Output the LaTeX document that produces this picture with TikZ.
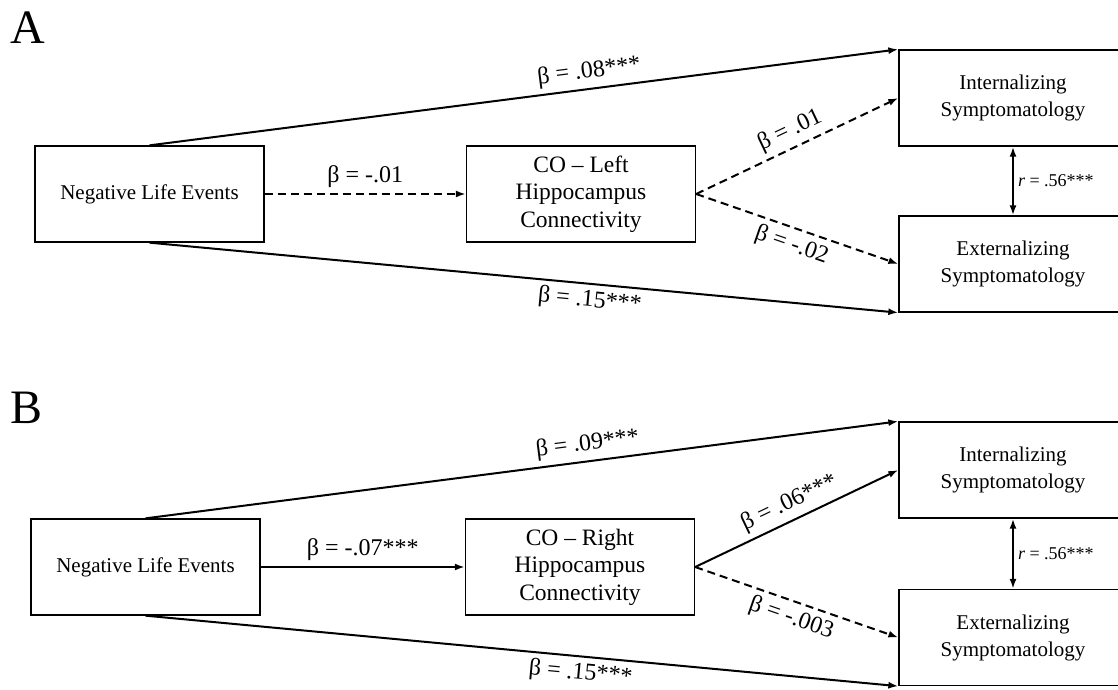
\documentclass[tikz,border=0pt]{standalone}
\usepackage{fontspec}
\setmainfont{Liberation Serif}
\usetikzlibrary{arrows.meta,positioning}

\begin{document}
\begin{tikzpicture}[x=1pt,y=-1pt,
        box/.style={draw,line width=1.3pt,minimum width=229pt,minimum height=96pt,
            align=center,font=\fontsize{21}{27}\selectfont},
        medbox/.style={box,font=\fontsize{23.5}{27.5}\selectfont},
        path/.style={line width=2pt,-{Latex[length=10pt,width=7pt]}},
        nspath/.style={path,dash pattern=on 8pt off 5pt},
        corr/.style={line width=2pt,{Latex[length=10pt,width=7pt]}-{Latex[length=10pt,width=7pt]}},
        coef/.style={font=\fontsize{24}{27}\selectfont,inner sep=5pt},
        rlab/.style={font=\fontsize{18}{20}\selectfont,inner sep=4pt},
        panel/.style={font=\fontsize{48}{48}\selectfont}]
        \useasboundingbox (0,0) rectangle (1118,689);
        \clip (0,0) rectangle (1118,689);
        \node[panel] (labA) at (28,28) {A};
        \node[box] (nleA) at (149.5,194) {Negative Life Events};
        \node[medbox] (medA) at (581,194) {CO -- Left\\Hippocampus\\Connectivity};
        \node[box,minimum width=228pt] (intA) at (1013,98) {Internalizing\\Symptomatology};
        \node[box,minimum width=228pt] (extA) at (1013,264) {Externalizing\\Symptomatology};
        \draw[path] (nleA.north) -- node[coef,sloped,above,pos=.59]{β = .08***} (intA.north west);
        \draw[nspath] (nleA) -- node[coef,above]{β = -.01} (medA);
        \draw[nspath] (medA.east) -- node[coef,sloped,above]{β = .01} (intA.west);
        \draw[nspath] (medA.east) -- node[coef,sloped,below]{β = -.02} (extA.west);
        \draw[path] (nleA.south) -- node[coef,sloped,below,pos=.59]{β = .15***} (extA.south west);
        \draw[corr] (intA) -- node[rlab,right]{\textit{r} = .56***} (extA);
        \node[panel] (labB) at (27,408) {B};
        \node[box] (nleB) at (145.5,567) {Negative Life Events};
        \node[medbox] (medB) at (580,567) {CO -- Right\\Hippocampus\\Connectivity};
        \node[box,minimum width=228pt] (intB) at (1013,470) {Internalizing\\Symptomatology};
        \node[box,minimum width=228pt] (extB) at (1013,637.5) {Externalizing\\Symptomatology};
        \draw[path] (nleB.north) -- node[coef,sloped,above,pos=.59]{β = .09***} (intB.north west);
        \draw[path] (nleB) -- node[coef,above]{β = -.07***} (medB);
        \draw[path] (medB.east) -- node[coef,sloped,above]{β = .06***} (intB.west);
        \draw[nspath] (medB.east) -- node[coef,sloped,below]{β = -.003} (extB.west);
        \draw[path] (nleB.south) -- node[coef,sloped,below,pos=.58]{β = .15***} (extB.south west);
        \draw[corr] (intB) -- node[rlab,right]{\textit{r} = .56***} (extB);
    \end{tikzpicture}
\end{document}
